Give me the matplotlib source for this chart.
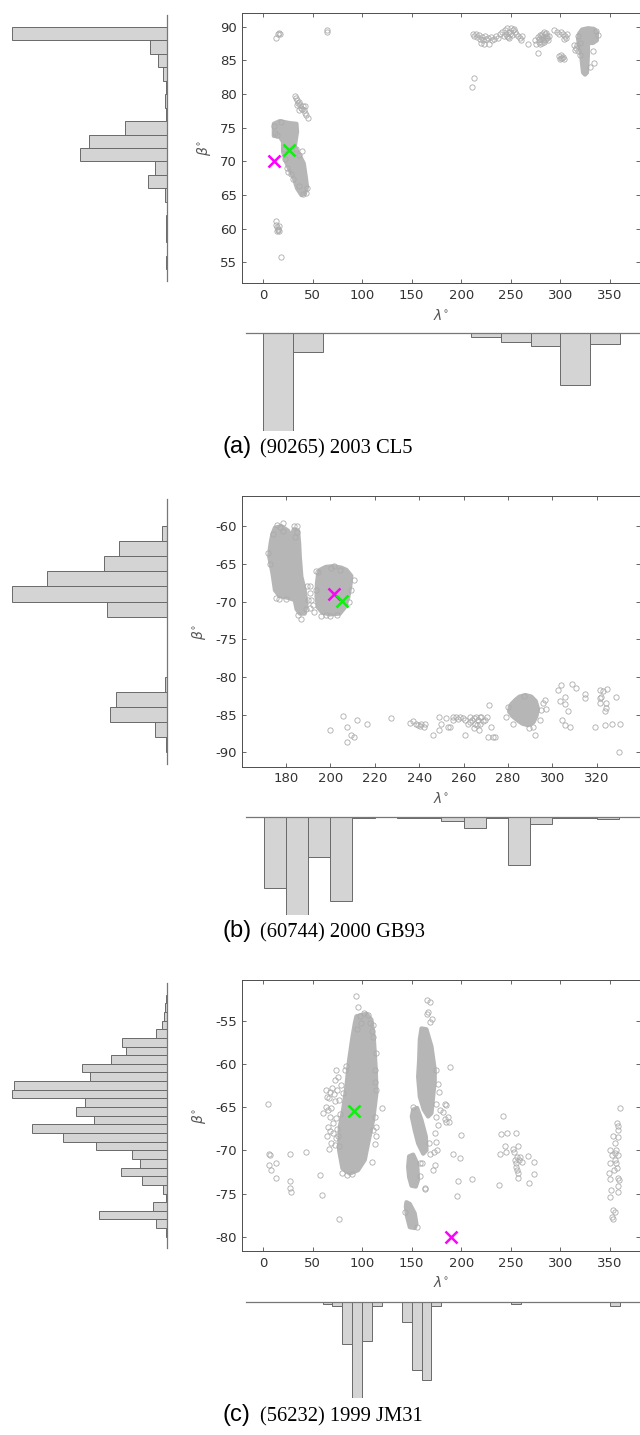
import numpy as np
import matplotlib.pyplot as plt

plt.rcParams['axes.unicode_minus'] = False

W, H = 640, 1435

# ---------------- (a) (90265) 2003 CL5 ----------------
a_points = [
    (13, 88.4), (15, 89.0), (16.5, 89.1), (17.5, 89.0), (64.5, 89.6), (64.8, 89.2),
    (212, 89.0), (213, 88.7), (215, 88.9), (216, 88.5), (218, 88.8), (219, 88.2), (220, 87.6),
    (221, 88.5), (222, 88.0), (223, 87.4), (224, 88.6), (225, 88.2), (227, 88.3), (228, 87.4),
    (230, 88.5), (231, 88.0), (233, 88.2), (235, 88.6), (237, 88.3),
    (239, 88.9), (241, 89.3), (243, 88.7), (244, 89.6), (246, 89.8), (247, 88.5), (248, 89.3),
    (250, 89.8), (251, 88.8), (252, 89.5), (254, 89.2), (255, 88.9), (257, 88.7), (259, 88.4),
    (260, 88.1), (261, 88.6), (245, 89.0), (249, 88.9), (253, 89.7), (246, 88.7), (248, 88.4),
    (267.5, 87.4), (277.5, 86.1), (275, 88.0), (276, 87.5),
    (278, 88.5), (279, 87.8), (280, 88.8), (281, 88.2), (282, 89.0), (283, 88.5), (284, 87.8),
    (285, 88.9), (286, 88.3), (287, 88.7), (288, 88.0), (289, 88.6), (280, 87.5), (282, 87.6),
    (284, 89.2), (286, 89.1), (279, 88.2), (283, 88.0), (287, 88.3), (281, 88.6), (285, 88.0),
    (294, 89.5), (297, 89.2), (299, 88.9), (301, 89.3), (303, 89.0), (305, 88.7), (306, 88.4),
    (307, 88.9), (304, 88.2),
    (299, 85.6), (300, 85.2), (301, 85.8), (302, 85.3), (303, 85.5), (304, 85.2), (300.5, 85.4),
    (315, 86.6), (316, 86.9), (318, 86.4), (317, 87.3), (314, 87.3), (320, 85.8), (320, 87.6),
    (334, 84.6), (333, 86.4), (330, 84.0), (318, 88.6), (338, 88.8), (336, 89.4),
    (210.4, 81.1), (212.7, 82.4),
    (32, 79.7), (33, 79.4), (34, 79.1), (35, 78.7), (36, 78.9), (37, 78.4), (38, 78.0),
    (39, 77.8), (40, 78.2), (41, 77.6), (42, 77.2), (43, 76.9), (45.5, 76.4), (34, 78.4),
    (36, 77.6), (42, 78.2),
    (11, 75.2), (12, 74.2), (14, 74.0), (18, 75.8), (39.4, 71.6), (21, 71.8), (22, 70.4),
    (24, 69.0), (25, 68.4), (28, 68.2), (30, 67.4), (44, 66.0), (43, 65.3), (40, 65.1),
    (36, 66.3), (33, 71.8), (36, 71.0),
    (13.5, 61.2), (13.5, 60.6), (14.5, 60.3), (15, 60.0), (15.5, 59.8), (16, 60.4), (16.5, 59.6),
    (14, 59.7), (18, 55.8),
]
a_blobs = [
    [(10.8, 75.6), (16.8, 76.0), (26.9, 75.7), (33.7, 75.6), (34.3, 74.4), (33.0, 73.2),
     (32.0, 72.2), (37.0, 70.9), (41.1, 69.7), (43.1, 67.7), (44.4, 66.2), (42.1, 65.2),
     (38.7, 65.0), (34.3, 66.0), (31.0, 67.5), (26.9, 68.7), (22.9, 70.0), (20.2, 71.4),
     (20.2, 72.9), (16.8, 73.7), (10.8, 73.8)],
    [(319, 89.0), (322, 89.6), (328, 89.8), (334, 89.7), (337, 89.2), (337, 88.0), (333, 87.6),
     (328, 87.6), (328, 86.0), (327.5, 84.5), (327, 83.2), (325, 82.9), (323, 83.2), (322, 84.5),
     (321, 86.0), (319, 87.2), (318, 88.2)],
]
a_magenta = (10.8, 70.05)
a_green = (26.3, 71.7)
a_lat_edges = [54, 56, 58, 60, 62, 64, 66, 68, 70, 72, 74, 76, 78, 80, 82, 84, 86, 88, 90]
a_lat_counts = [0.3, 0, 0.7, 0.7, 0, 1.3, 18.7, 11.3, 87, 78, 41.7, 1.0, 1.5, 0.3, 3.3, 8.7, 16.7, 154.4]
a_lon_edges = [0, 30, 60, 90, 120, 150, 180, 210, 240, 270, 300, 330, 360]
a_lon_counts = [98, 18.3, 0, 0, 0, 0, 0, 4, 8.3, 12.3, 51.7, 10.7]

# ---------------- (b) (60744) 2000 GB93 ----------------
b_points = [
    (175.8, -59.9), (177.3, -60.1), (178.8, -59.6), (183.6, -60.0), (185.1, -60.0), (184.8, -60.8),
    (184.0, -61.4), (178.5, -60.7), (174.3, -61.0), (172.1, -63.6), (173.0, -65.0), (175.5, -69.5),
    (177.0, -69.6), (180.0, -69.7), (185.5, -71.8), (187.0, -72.3), (189.0, -71.0),
    (189.3, -68.0), (191.1, -68.0), (190.8, -68.9), (191.5, -69.8), (192.3, -70.5), (190.8, -70.9),
    (192.6, -71.4), (193.5, -65.9), (194.5, -66.1), (190.0, -69.8), (193.8, -68.5), (196.0, -71.9),
    (198.0, -71.8), (200.0, -71.9), (203.0, -71.8),
    (201.7, -65.3), (204.3, -65.8), (210.7, -67.1), (209.5, -68.5), (208.5, -70.0), (200.5, -65.6),
    (200.1, -87.0), (205.8, -85.2), (207.6, -86.7), (207.4, -88.6), (209.2, -87.7), (210.7, -88.0),
    (211.9, -85.7), (216.7, -86.2), (227.2, -85.5), (235.8, -86.1), (237.3, -85.9), (238.5, -86.2),
    (239.6, -86.4), (241.0, -86.2), (242.1, -86.7), (240.3, -86.5), (242.7, -86.2), (246.3, -87.7),
    (248.8, -87.0), (249.0, -85.3), (250.0, -86.2), (252.3, -85.5), (253.0, -86.7), (254.0, -86.7),
    (255.3, -85.3), (256.8, -85.3), (258.3, -85.3), (259.8, -85.4), (260.6, -85.7), (260.6, -87.7),
    (262.1, -86.2), (262.9, -85.3), (263.6, -85.7), (264.5, -85.5), (265.2, -86.2), (264.5, -86.8),
    (266.0, -86.4), (266.5, -85.7), (266.9, -87.0), (268.0, -85.3), (268.7, -85.9), (269.5, -85.7),
    (270.5, -85.3), (271.4, -83.7), (271.0, -88.0), (272.2, -86.6), (273.2, -88.0), (274.0, -87.9),
    (267.2, -85.3), (255.3, -85.7), (257.5, -85.6), (263.0, -86.0), (267.5, -86.3), (265.5, -85.3),
    (279.2, -85.3), (282.2, -86.2), (292.0, -87.7), (291.2, -86.6), (294.2, -85.7), (295.7, -83.5),
    (296.5, -83.1), (297.2, -84.2), (294.9, -84.4), (280.0, -84.0), (287.0, -82.5), (289.5, -86.8),
    (302.5, -81.7), (303.7, -81.1), (303.3, -83.2), (305.5, -82.7), (305.8, -83.6), (307.0, -84.5),
    (309.0, -80.9), (310.7, -81.4), (304.4, -85.7), (305.8, -86.4), (307.8, -86.6), (314.8, -82.3),
    (314.8, -82.8), (319.3, -86.7), (321.2, -82.8), (321.2, -81.7), (322.0, -82.6), (321.2, -83.5),
    (322.7, -81.9), (324.5, -81.6), (323.5, -84.5), (323.9, -84.1), (323.5, -86.4), (324.2, -83.5),
    (326.8, -86.2), (328.4, -82.6), (330.2, -86.2), (329.9, -89.9),
]
b_blobs = [
    [(174.0, -61.0), (175.1, -60.2), (178.0, -60.0), (181.0, -60.6), (182.5, -61.4), (183.6, -60.4),
     (185.5, -60.6), (186.0, -62.3), (186.3, -64.1), (187.0, -66.7), (188.5, -68.5), (189.3, -70.3),
     (188.5, -71.6), (186.3, -71.6), (184.8, -71.0), (184.0, -69.8), (181.0, -69.5), (177.3, -69.3),
     (175.1, -68.5), (174.0, -66.3), (172.5, -64.0), (172.8, -63.0), (173.3, -62.0)],
    [(195.3, -65.8), (198.0, -65.4), (201.3, -65.3), (205.0, -65.5), (207.3, -65.8), (209.5, -66.6),
     (209.0, -68.0), (208.0, -69.6), (206.5, -70.8), (204.3, -71.6), (200.0, -71.7), (196.5, -71.5),
     (194.5, -70.8), (193.8, -69.4), (194.0, -67.6), (194.5, -66.4)],
    [(281.5, -83.6), (283.5, -83.0), (285.2, -82.6), (288.0, -82.4), (290.5, -82.6), (292.5, -83.2),
     (293.5, -84.2), (292.8, -85.2), (291.5, -86.0), (289.0, -86.4), (286.5, -86.2), (284.5, -85.8),
     (282.0, -85.2), (280.5, -84.6), (280.8, -84.0)],
]
b_magenta = (201.7, -69.0)
b_green = (205.5, -69.9)
b_lat_edges = [-90, -88, -86, -84, -82, -80, -78, -76, -74, -72, -70, -68, -66, -64, -62, -60]
b_lat_counts = [0.7, 12, 56.3, 50.7, 1.3, 0, 0, 0, 0, 60, 154.3, 119.7, 62.7, 47.3, 4.3]
b_lon_edges = [170, 180, 190, 200, 210, 220, 230, 240, 250, 260, 270, 280, 290, 300, 310, 320, 330]
b_lon_counts = [70.3, 97.7, 39.3, 83.7, 0.3, 0, 0.3, 0.3, 3.7, 11, 0.3, 48, 6.7, 0.5, 0.3, 1.7]

# ---------------- (c) (56232) 1999 JM31 ----------------
c_points = [
    (93.6, -52.1), (96.0, -53.4), (98.0, -54.5), (101.5, -54.1), (106.0, -54.3), (108.0, -55.3),
    (98.5, -55.3), (95.0, -56.0), (110.0, -56.2),
    (64.0, -63.0), (64.6, -63.8), (63.3, -65.0), (65.5, -65.3), (67.3, -66.1), (65.6, -67.3),
    (68.0, -67.8), (64.3, -68.4), (69.0, -69.2), (72.4, -69.4), (60.6, -65.7), (70.0, -62.8),
    (72.4, -61.9), (74.0, -60.7), (76.0, -61.5), (79.1, -62.4), (80.8, -63.4), (77.0, -64.2),
    (72.4, -64.3), (69.0, -65.1), (73.4, -66.3), (74.7, -67.5), (75.7, -68.3), (73.4, -68.6),
    (82.5, -60.7), (84.0, -60.2), (66.5, -64.0), (70.5, -66.8), (71.5, -63.5),
    (68.0, -63.2), (75.0, -63.0), (78.0, -65.8), (71.0, -68.0), (76.5, -69.5), (67.0, -69.8),
    (113.8, -58.8), (112.8, -60.7), (113.4, -62.1), (114.4, -63.0), (120.5, -65.1), (112.8, -66.1),
    (111.1, -67.7), (113.5, -67.3), (113.8, -68.3), (112.8, -69.3), (110.1, -71.4), (111.1, -56.9),
    (111.1, -55.5), (80.0, -72.6), (85.0, -72.9), (90.0, -72.8),
    (165.6, -52.6), (168.3, -52.9), (166.9, -54.0), (165.0, -54.2), (171.0, -54.8), (169.0, -55.2),
    (174.3, -60.7), (176.7, -62.3), (177.7, -63.3), (175.0, -64.6), (178.4, -65.3), (184.1, -64.7),
    (183.5, -66.4), (181.5, -65.6), (174.5, -66.2), (176.7, -67.1), (173.3, -68.0), (175.0, -69.0),
    (172.3, -70.2), (175.5, -70.0), (173.3, -71.7), (171.7, -72.3), (186.6, -66.1), (187.8, -66.7),
    (188.5, -60.4),
    (151.5, -65.0), (167.3, -69.2), (168.3, -70.4), (160.9, -71.5),
    (158.2, -71.5), (158.0, -73.0), (163.2, -74.4),
    (155.5, -78.9), (143.0, -77.1),
    (5.0, -64.7), (6.1, -70.4), (7.4, -70.5), (6.1, -71.7), (8.4, -72.3), (12.8, -71.5),
    (12.8, -73.2), (27.6, -70.4), (26.9, -73.6), (27.6, -74.4), (28.6, -74.8), (43.1, -70.2),
    (57.2, -72.9), (59.9, -75.2), (76.7, -78.0),
    (185.1, -64.8), (184.5, -66.7), (191.9, -70.4), (198.6, -70.9), (199.3, -68.2), (196.9, -73.6),
    (210.4, -73.3), (196.2, -75.3), (163.6, -74.5),
    (238.3, -74.0), (239.0, -70.4), (240.0, -68.1), (242.3, -66.0), (244.3, -69.5), (245.0, -70.2),
    (246.4, -68.0), (252.4, -69.8), (253.0, -70.2), (255.1, -68.0), (254.1, -71.1), (255.1, -71.5),
    (255.8, -71.9), (256.4, -72.3), (257.5, -73.2), (257.5, -69.5), (258.5, -71.1), (259.8, -70.8),
    (257.0, -72.6), (261.8, -71.4), (267.6, -70.7), (268.2, -73.8), (273.6, -71.4), (273.6, -72.8),
    (256.0, -70.8),
    (350.0, -70.0), (350.7, -71.5), (349.4, -72.6), (350.0, -73.3), (351.7, -74.6), (350.7, -75.4),
    (353.4, -68.3), (355.1, -69.2), (356.8, -66.9), (358.5, -67.2), (357.8, -67.7), (358.5, -68.5),
    (356.4, -70.0), (358.5, -70.5), (360.3, -65.1), (358.5, -73.2), (359.5, -73.4), (358.5, -74.1),
    (357.8, -74.8), (353.4, -76.9), (355.1, -77.1), (353.4, -77.9), (352.4, -77.7), (355.1, -71.1),
    (354.1, -72.3), (356.5, -71.5), (352.0, -70.6), (355.5, -70.3), (357.0, -72.0),
]
c_blobs = [
    [(94.2, -54.5), (104.3, -54.2), (109.4, -54.9), (111.7, -56.9), (113.8, -60.7), (114.4, -63.4),
     (111.1, -66.5), (106.0, -69.2), (102.7, -71.1), (95.9, -72.3), (87.5, -72.7), (80.1, -72.1),
     (76.7, -70.0), (77.4, -67.3), (80.8, -65.3), (84.1, -62.6), (86.8, -59.6), (90.2, -56.9),
     (92.6, -55.3)],
    [(159.9, -55.9), (164.9, -56.0), (170.0, -58.0), (173.3, -60.7), (173.3, -61.9), (171.7, -63.8),
     (170.0, -65.7), (166.6, -66.1), (162.2, -65.3), (158.2, -63.8), (156.5, -61.5), (157.5, -59.6),
     (158.2, -57.2)],
    [(151.5, -65.3), (155.5, -65.1), (159.9, -66.5), (164.3, -68.4), (165.0, -70.0), (161.6, -70.4),
     (156.5, -69.2), (153.1, -67.7), (150.1, -66.1)],
    [(147.4, -70.7), (151.5, -70.5), (155.5, -71.5), (156.5, -73.4), (154.2, -74.2), (149.8, -74.1),
     (147.4, -73.1), (146.4, -71.9)],
    [(144.7, -76.0), (148.1, -76.2), (153.1, -77.3), (154.8, -78.5), (153.1, -79.0), (148.1, -78.9),
     (145.4, -77.7), (144.1, -76.5)],
]
c_magenta = (190.2, -80.0)
c_green = (91.9, -65.4)
c_lat_edges = [-80, -79, -78, -77, -76, -75, -74, -73, -72, -71, -70, -69, -68, -67, -66, -65,
               -64, -63, -62, -61, -60, -59, -58, -57, -56, -55, -54, -53, -52]
c_lat_counts = [0.7, 10.3, 67.3, 13.7, 1.0, 3.3, 25.0, 45.3, 27.0, 34.7, 71.0, 103.3, 135.0, 73.0,
                90.7, 81.7, 154.3, 152.3, 76.7, 85.0, 55.3, 40.7, 45.0, 10.7, 4.7, 3.0, 1.3, 1.0]
c_lon_edges = [0, 10, 20, 30, 40, 50, 60, 70, 80, 90, 100, 110, 120, 130, 140, 150, 160, 170, 180,
               190, 200, 210, 220, 230, 240, 250, 260, 270, 280, 290, 300, 310, 320, 330, 340, 350, 360]
c_lon_counts = [0.3, 0, 0.3, 0, 0, 0.5, 2.3, 4.3, 42.7, 96.7, 39.3, 4.3, 0, 0, 20, 68.3, 78.3, 4.3,
                0.5, 0.5, 0, 0, 0, 0.3, 0.3, 2.3, 0.3, 0, 0, 0, 0, 0, 0, 0, 0, 4.7]

panels = [
    dict(top=12.7, bottom=283.3, hist_top=333.3, hist_bottom=431.3, cap_y=453, ylab_x=-0.074,
         letter='(a)', name='(90265) 2003 CL5',
         xlim=(-21, 380), ylim=(51.9, 92.1), xticks=range(0, 351, 50), yticks=range(55, 91, 5),
         points=a_points, blobs=a_blobs, magenta=a_magenta, green=a_green,
         lat_edges=a_lat_edges, lat_counts=a_lat_counts, lon_edges=a_lon_edges, lon_counts=a_lon_counts),
    dict(top=496, bottom=766.7, hist_top=817.3, hist_bottom=915, cap_y=937, ylab_x=-0.086,
         letter='(b)', name='(60744) 2000 GB93',
         xlim=(160.4, 339.2), ylim=(-91.9, -56.0), xticks=range(180, 321, 20), yticks=range(-90, -59, 5),
         points=b_points, blobs=b_blobs, magenta=b_magenta, green=b_green,
         lat_edges=b_lat_edges, lat_counts=b_lat_counts, lon_edges=b_lon_edges, lon_counts=b_lon_counts),
    dict(top=980, bottom=1251, hist_top=1301.5, hist_bottom=1398.3, cap_y=1421, ylab_x=-0.086,
         letter='(c)', name='(56232) 1999 JM31',
         xlim=(-21, 380), ylim=(-81.65, -50.3), xticks=range(0, 351, 50), yticks=range(-80, -54, 5),
         points=c_points, blobs=c_blobs, magenta=c_magenta, green=c_green,
         lat_edges=c_lat_edges, lat_counts=c_lat_counts, lon_edges=c_lon_edges, lon_counts=c_lon_counts),
]

AX_COL = '#4d4d4d'
PT_COL = '#ababab'
BLOB_COL = '#b6b6b6'
BAR_FACE = '#d4d4d4'
BAR_EDGE = '#6a6a6a'

fig = plt.figure(figsize=(W / 100, H / 100), dpi=100)


def px_axes(x0, y0, x1, y1):
    return fig.add_axes([x0 / W, 1 - y1 / H, (x1 - x0) / W, (y1 - y0) / H])


for p in panels:
    # main scatter; dense clouds are drawn as filled outlines
    ax = px_axes(242.3, p['top'], 639.5, p['bottom'])
    for blob in p['blobs']:
        bl = np.array(blob)
        ax.fill(bl[:, 0], bl[:, 1], fc=BLOB_COL, ec=BLOB_COL, lw=3, joinstyle='round', zorder=2)
    pts = np.array(p['points'])
    ax.plot(pts[:, 0], pts[:, 1], 'o', mfc='none', mec=PT_COL, ms=3.8, mew=0.6, zorder=3)
    ax.plot(*p['magenta'], 'x', color='#ff00ff', ms=8.5, mew=1.8, zorder=5)
    ax.plot(*p['green'], 'x', color='#11ee11', ms=8.5, mew=1.8, zorder=5)
    ax.set_xlim(p['xlim'])
    ax.set_ylim(p['ylim'])
    ax.set_xticks(list(p['xticks']))
    ax.set_yticks(list(p['yticks']))
    ax.tick_params(direction='in', top=True, right=True, length=3, width=0.6, color=AX_COL,
                   labelsize=9.5, labelcolor='#333333', pad=4)
    for s in ax.spines.values():
        s.set_color(AX_COL)
        s.set_linewidth(0.7)
    ax.set_xlabel(r'$\lambda^{\circ}$', fontsize=10, color='#555555')
    ax.xaxis.set_label_coords(0.5, -0.09)
    ax.set_ylabel(r'$\beta^{\circ}$', fontsize=10, color='#555555')
    ax.yaxis.set_label_coords(p['ylab_x'], 0.5)

    # latitude histogram on the left, bars growing leftwards
    hl = px_axes(12.3, p['top'], 166.7, p['bottom'])
    edges = p['lat_edges']
    hl.barh(edges[:-1], p['lat_counts'], height=np.diff(edges), align='edge',
            color=BAR_FACE, edgecolor=BAR_EDGE, linewidth=0.7)
    hl.set_ylim(p['ylim'])
    hl.set_xlim(max(p['lat_counts']), 0)
    hl.axvline(0, ymin=0.01, ymax=0.99, color='#777777', lw=0.9, clip_on=False)
    hl.axis('off')

    # longitude histogram below, bars hanging down
    hb = px_axes(242.3, p['hist_top'], 639.5, p['hist_bottom'])
    edges = p['lon_edges']
    hb.bar(edges[:-1], p['lon_counts'], width=np.diff(edges), align='edge',
           color=BAR_FACE, edgecolor=BAR_EDGE, linewidth=0.7)
    hb.set_xlim(p['xlim'])
    hb.set_ylim(max(p['lon_counts']), 0)
    hb.axhline(0, xmin=0.01, color='#777777', lw=0.9, clip_on=False)
    hb.axis('off')

    # caption
    fig.text(222.7 / W, 1 - p['cap_y'] / H, p['letter'], family='Liberation Sans',
             fontsize=17, va='baseline', ha='left')
    fig.text(259.5 / W, 1 - p['cap_y'] / H, p['name'], family='Liberation Serif',
             fontsize=14.8, va='baseline', ha='left')

fig.savefig('out.png', dpi=100)
